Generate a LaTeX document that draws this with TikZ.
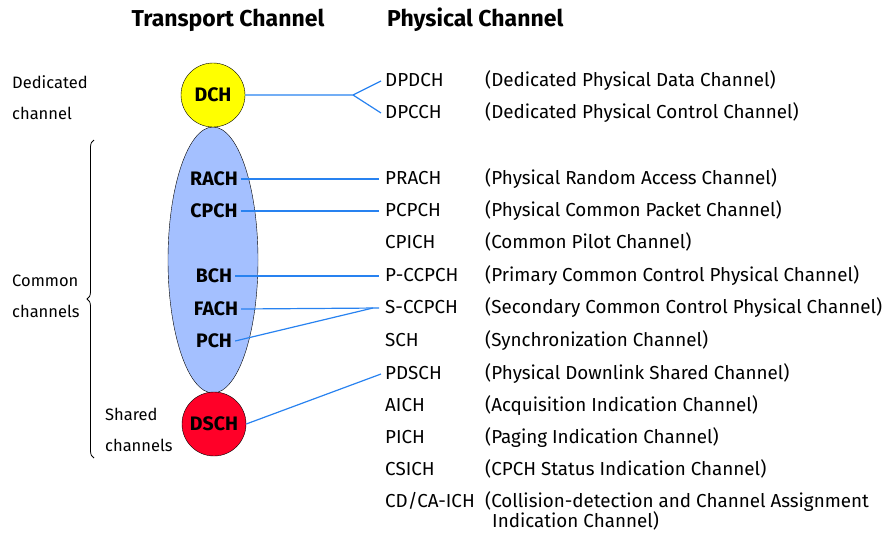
\documentclass[tikz,border=0pt]{standalone}
\usepackage{fontspec}
\setmainfont{Fira Sans}
\usetikzlibrary{shapes.geometric,decorations.pathreplacing}
\definecolor{chline}{RGB}{40,130,240}
\definecolor{chblue}{RGB}{164,192,255}
\definecolor{chyellow}{RGB}{255,255,0}
\definecolor{chred}{RGB}{255,0,40}
\tikzset{
	txt/.style={inner sep=0pt, anchor=west, text height=13pt, text depth=3pt, font=\fontsize{18.8}{22}\selectfont},
	side/.style={txt, font=\fontsize{16.5}{20}\selectfont},
	tr/.style={inner sep=3pt, font=\fontsize{19.5}{22}\selectfont\bfseries},
	head/.style={inner sep=0pt, font=\fontsize{23}{26}\selectfont\bfseries},
	link/.style={chline, line width=1.2pt},
}

\begin{document}
\begin{tikzpicture}[x=1pt,y=-1pt]
			\useasboundingbox (0,0) rectangle (893,533);
			\node[head] (thead) at (228,20) {Transport Channel};
			\node[head, anchor=west] (phead) at (387,20) {Physical Channel};
			% left side labels
			\node[side] (ded1) at (12,83) {Dedicated};
			\node[side] (ded2) at (12,114) {channel};
			\node[side] (com1) at (12,281) {Common};
			\node[side] (com2) at (12,312) {channels};
			\node[side] (sha1) at (105,415) {Shared};
			\node[side] (sha2) at (105,446) {channels};
			\draw[decorate, decoration={brace, amplitude=7pt}, line width=0.8pt] (94,458) -- (94,140);
			% transport channels
			\node[ellipse, draw, fill=chblue, minimum width=90pt, minimum height=266pt] (common) at (213,260) {};
			\node[circle, draw, fill=chyellow, minimum size=64pt, inner sep=0pt, tr] (dch) at (213,95) {DCH};
			\node[circle, draw, fill=chred, minimum size=64pt, inner sep=0pt, tr] (dsch) at (214,424) {DSCH};
			\node[tr] (rach) at (214,179) {RACH};
			\node[tr] (cpch) at (214,211) {CPCH};
			\node[tr] (bch) at (214,276) {BCH};
			\node[tr] (fach) at (216,309) {FACH};
			\node[tr] (pch) at (214,341) {PCH};
			% physical channels
			\node[txt] (dpdch) at (385,81) {DPDCH};
			\node[txt] (dpcch) at (385,113) {DPCCH};
			\node[txt] (prach) at (385,179) {PRACH};
			\node[txt] (pcpch) at (385,211) {PCPCH};
			\node[txt] (cpich) at (385,243) {CPICH};
			\node[txt] (pccpch) at (385,276) {P-CCPCH};
			\node[txt] (sccpch) at (385,308) {S-CCPCH};
			\node[txt] (sch) at (385,341) {SCH};
			\node[txt] (pdsch) at (385,374) {PDSCH};
			\node[txt] (aich) at (385,406) {AICH};
			\node[txt] (pich) at (385,438) {PICH};
			\node[txt] (csich) at (385,470) {CSICH};
			\node[txt] (cdcaich) at (385,502) {CD/CA-ICH};
			% descriptions
			\node[txt] (dpdchd) at (485,81) {(Dedicated Physical Data Channel)};
			\node[txt] (dpcchd) at (485,113) {(Dedicated Physical Control Channel)};
			\node[txt] (prachd) at (485,179) {(Physical Random Access Channel)};
			\node[txt] (pcpchd) at (485,211) {(Physical Common Packet Channel)};
			\node[txt] (cpichd) at (485,243) {(Common Pilot Channel)};
			\node[txt] (pccpchd) at (485,276) {(Primary Common Control Physical Channel)};
			\node[txt] (sccpchd) at (485,308) {(Secondary Common Control Physical Channel)};
			\node[txt] (schd) at (485,341) {(Synchronization Channel)};
			\node[txt] (pdschd) at (485,374) {(Physical Downlink Shared Channel)};
			\node[txt] (aichd) at (485,406) {(Acquisition Indication Channel)};
			\node[txt] (pichd) at (485,438) {(Paging Indication Channel)};
			\node[txt] (csichd) at (485,470) {(CPCH Status Indication Channel)};
			\node[txt] (cdcaichd) at (485,502) {(Collision-detection and Channel Assignment};
			\node[txt] (cdcaichd2) at (492,522) {Indication Channel)};
			% connectors
			\coordinate (fork) at (353,95);
			\draw[link] (dch.east) -- (fork) -- ([xshift=-4pt]dpdch.west);
			\draw[link] (fork) -- ([xshift=-4pt]dpcch.west);
			\draw[link] (rach.east) -- ([xshift=-6pt]prach.west);
			\draw[link] (cpch.east) -- ([xshift=-6pt]pcpch.west);
			\draw[link] (bch.east) -- ([xshift=-6pt]pccpch.west);
			\draw[link] (fach.east) -- ([xshift=-6pt]sccpch.west);
			\draw[link] (pch.east) -- ([xshift=-12pt]sccpch.west);
			\draw[link] (dsch.east) -- ([xshift=-4pt]pdsch.west);
			\end{tikzpicture}
\end{document}
